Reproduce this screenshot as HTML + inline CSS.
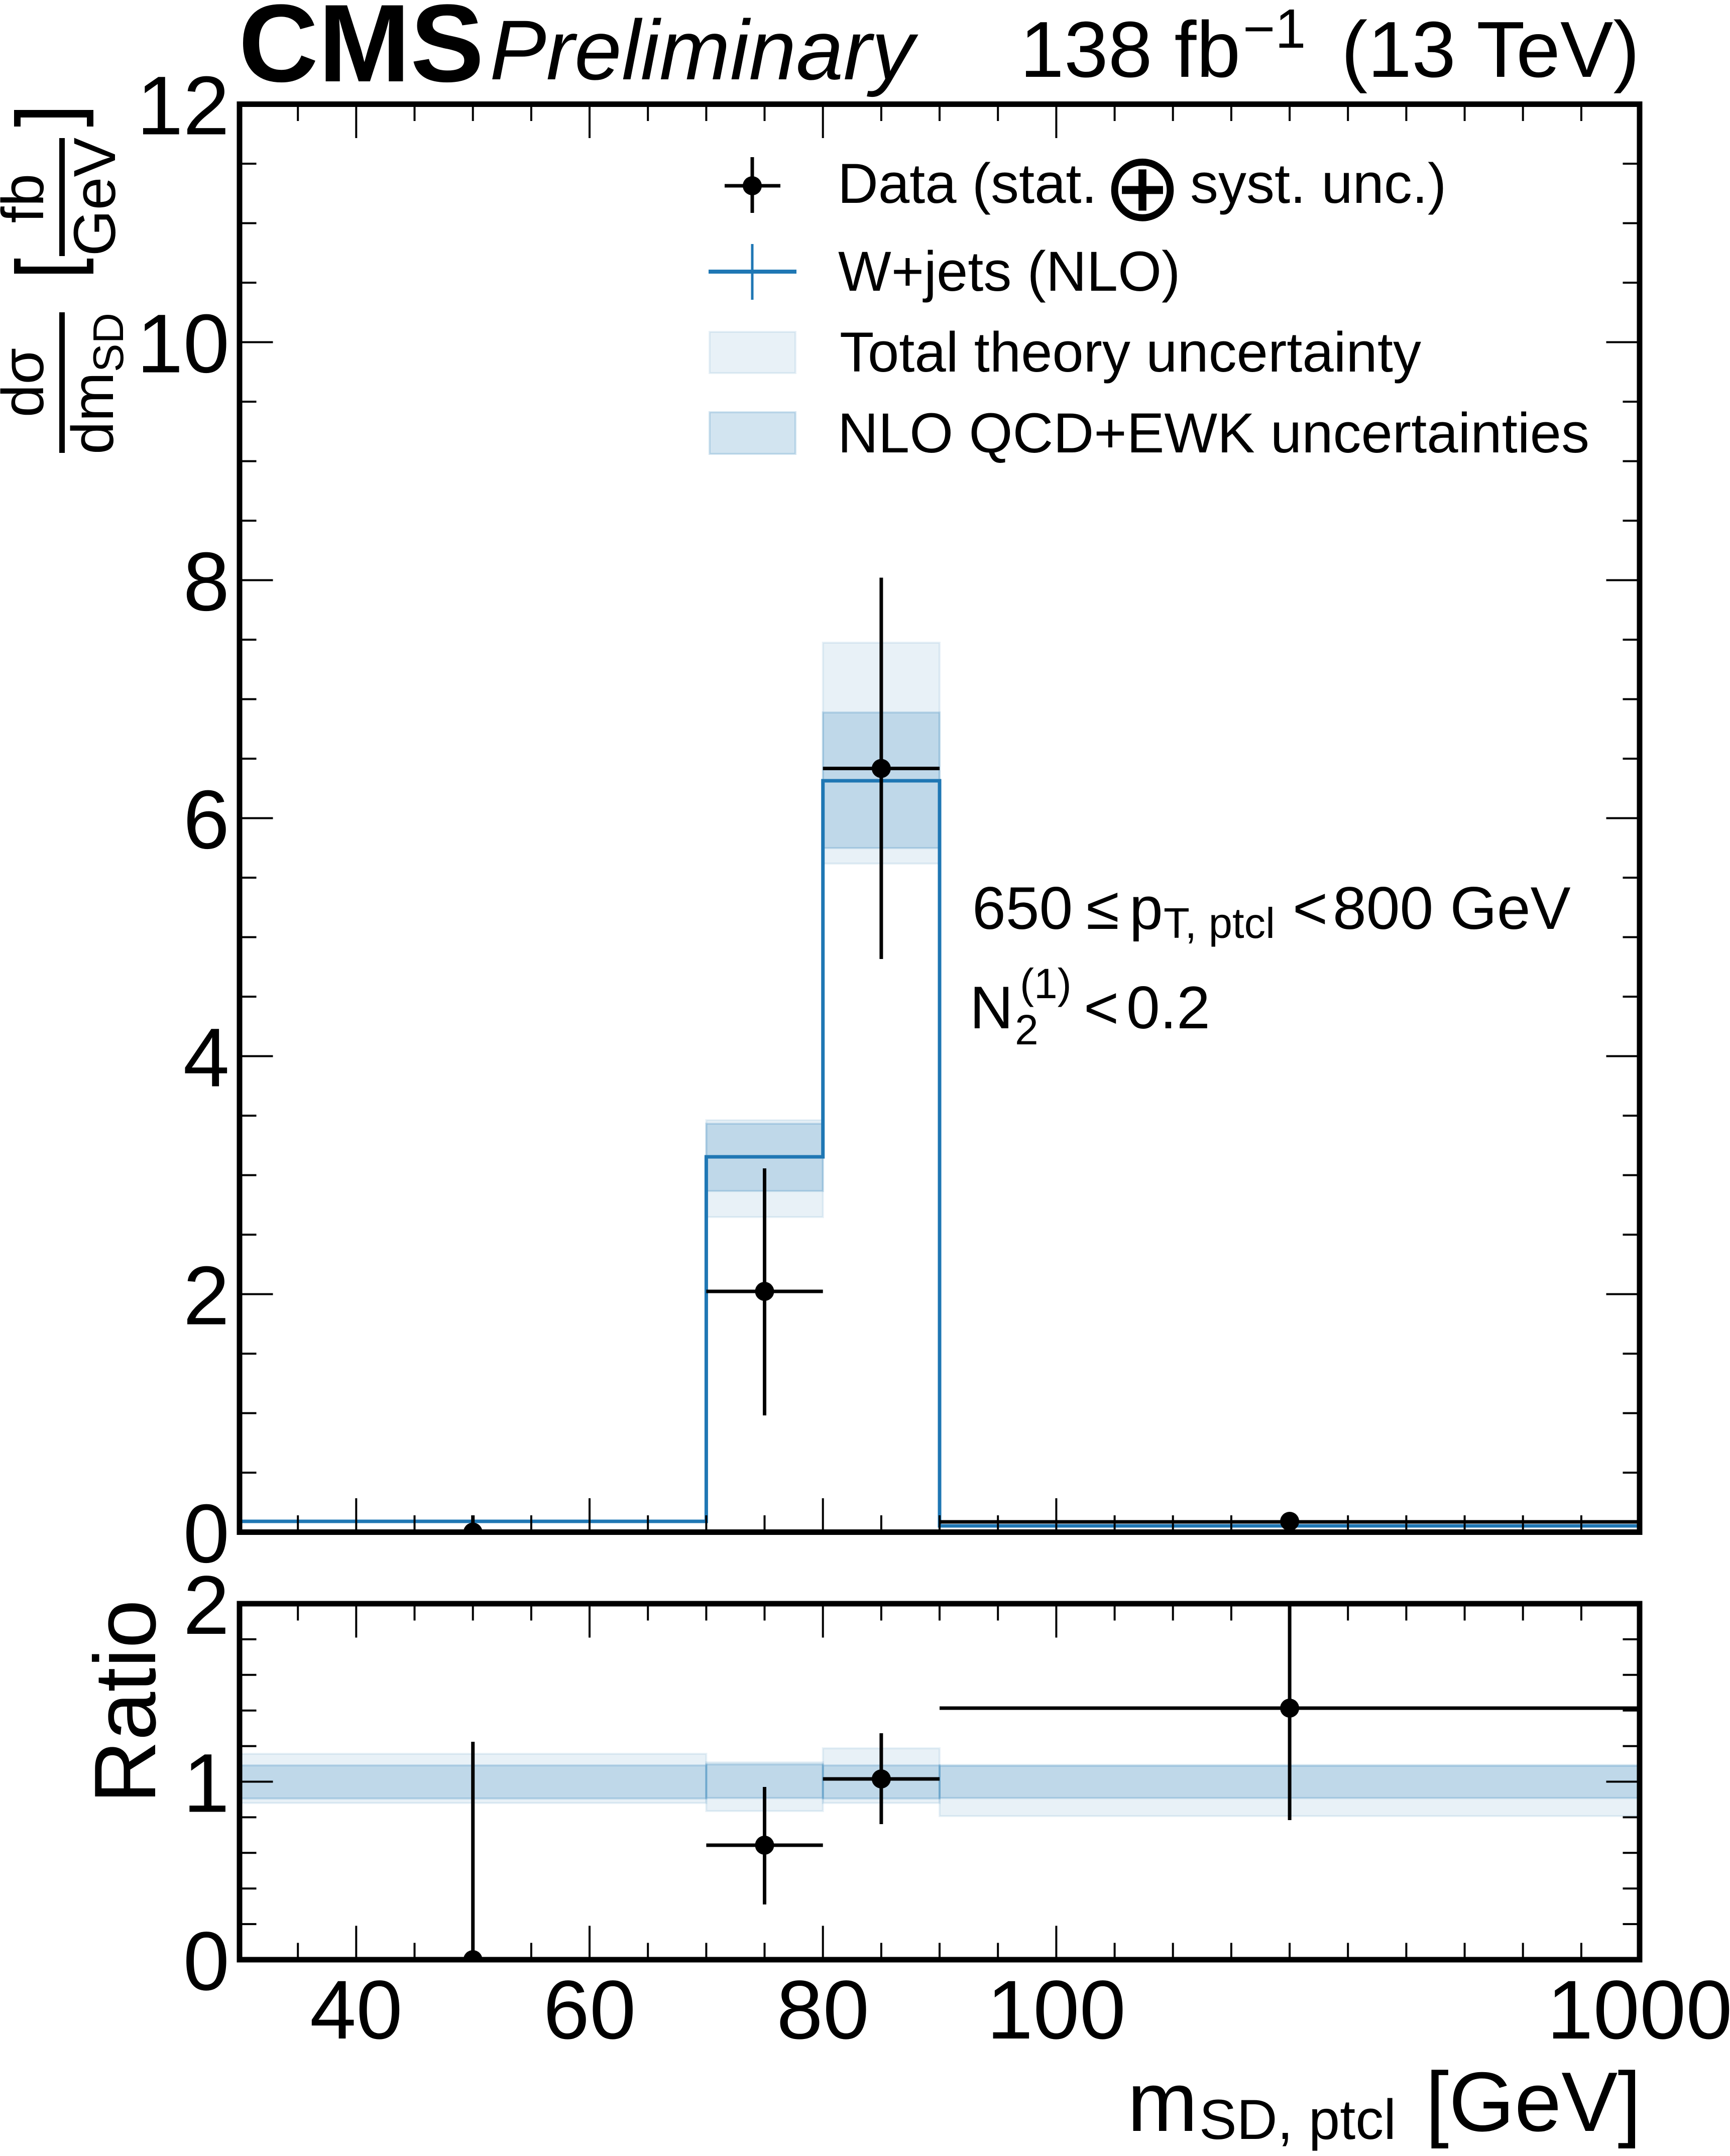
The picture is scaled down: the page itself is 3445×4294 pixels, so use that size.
<!DOCTYPE html>
<html>
<head>
<meta charset="utf-8">
<style>
html,body{margin:0;padding:0;background:#fff}
svg{display:block}
</style>
</head>
<body>
<svg width="3445" height="4294" viewBox="0 0 3445 4294" xmlns="http://www.w3.org/2000/svg" xmlns:xlink="http://www.w3.org/1999/xlink" font-family="'Liberation Sans','DejaVu Sans',sans-serif">
<defs>
<clipPath id="cm"><rect x="477" y="207.5" width="2788" height="2844"/></clipPath>
<clipPath id="cr"><rect x="477" y="3194" width="2788" height="709"/></clipPath>
<path id="xt" fill="none" stroke="#000" stroke-width="4" d="M593.2 0v-28M709.3 0v-62M825.5 0v-28M941.7 0v-28M1057.9 0v-28M1174 0v-62M1290.2 0v-28M1406.4 0v-28M1522.5 0v-28M1638.7 0v-62M1754.9 0v-28M1871 0v-28M1987.2 0v-28M2103.4 0v-62M2219.6 0v-28M2335.7 0v-28M2451.9 0v-28M2568.1 0v-28M2684.2 0v-28M2800.4 0v-28M2916.6 0v-28M3032.7 0v-28M3148.9 0v-28"/>
<path id="ym" fill="none" stroke="#000" stroke-width="4" d="M0 2933h28M0 2814.5h28M0 2696h28M0 2577.5h61M0 2459h28M0 2340.5h28M0 2222h28M0 2103.5h61M0 1985h28M0 1866.5h28M0 1748h28M0 1629.5h61M0 1511h28M0 1392.5h28M0 1274h28M0 1155.5h61M0 1037h28M0 918.5h28M0 800h28M0 681.5h61M0 563h28M0 444.5h28M0 326h28"/>
<path id="yr" fill="none" stroke="#000" stroke-width="4" d="M0 3832.1h28M0 3761.2h28M0 3690.3h28M0 3619.4h28M0 3548.5h61M0 3477.6h28M0 3406.7h28M0 3335.8h28M0 3264.9h28"/>
</defs>

<rect x="0" y="0" width="3445" height="4294" fill="#fff"/>

<!-- ============ MAIN PANEL ============ -->
<g clip-path="url(#cm)">
  <rect x="1406.4" y="2231" width="232.3" height="193" fill="rgba(31,119,180,0.1)" stroke="rgba(31,119,180,0.1)" stroke-width="4"/>
  <rect x="1406.4" y="2238" width="232.3" height="134" fill="rgba(31,119,180,0.2)" stroke="rgba(31,119,180,0.2)" stroke-width="4"/>
  <rect x="1638.7" y="1280" width="232.3" height="440" fill="rgba(31,119,180,0.1)" stroke="rgba(31,119,180,0.1)" stroke-width="4"/>
  <rect x="1638.7" y="1419" width="232.3" height="270" fill="rgba(31,119,180,0.2)" stroke="rgba(31,119,180,0.2)" stroke-width="4"/>
  <path d="M477 3030H1406.4V2304H1638.7V1555H1871V3039H3265" fill="none" stroke="#1f77b4" stroke-width="7"/>
  <g stroke="#000" stroke-width="7" fill="none">
    <path d="M941.7 3018V3052"/>
    <path d="M1406.4 2572H1638.7M1522.5 2327V2819"/>
    <path d="M1638.7 1530.5H1871M1754.9 1150.5V1910"/>
    <path d="M1871 3031H3265"/>
  </g>
  <g fill="#000">
    <circle cx="941.7" cy="3051.5" r="19"/>
    <circle cx="1522.5" cy="2572" r="19"/>
    <circle cx="1754.9" cy="1530.5" r="19"/>
    <circle cx="2568.1" cy="3030" r="19"/>
  </g>
</g>

<use xlink:href="#xt" href="#xt" transform="translate(0,3046)"/>
<use xlink:href="#xt" href="#xt" transform="translate(0,213) scale(1,-1)"/>
<use xlink:href="#ym" href="#ym" transform="translate(482.5,0)"/>
<use xlink:href="#ym" href="#ym" transform="translate(3259.5,0) scale(-1,1)"/>
<rect x="477" y="207.5" width="2788" height="2844" fill="none" stroke="#000" stroke-width="11"/>

<g font-size="166" text-anchor="end" fill="#000">
  <text x="457" y="3111.5">0</text>
  <text x="457" y="2637.5">2</text>
  <text x="457" y="2163.5">4</text>
  <text x="457" y="1689.5">6</text>
  <text x="457" y="1215.5">8</text>
  <text x="457" y="741.5">10</text>
  <text x="457" y="267.5">12</text>
</g>

<g fill="#000">
  <text transform="translate(86,762) rotate(-90)" font-size="118" text-anchor="middle">dσ</text>
  <rect x="118" y="622" width="11" height="280"/>
  <text transform="translate(225,905) rotate(-90)" font-size="118">dm<tspan font-size="85" dy="20">SD</tspan></text>
  <text transform="translate(86,395) rotate(-90)" font-size="118" text-anchor="middle">fb</text>
  <rect x="118" y="275" width="11" height="235"/>
  <text transform="translate(229,392) rotate(-90)" font-size="118" text-anchor="middle">GeV</text>
  <rect x="28" y="531" width="158" height="14"/>
  <rect x="28" y="515" width="13" height="30"/>
  <rect x="173" y="515" width="13" height="30"/>
  <rect x="28" y="219" width="158" height="15"/>
  <rect x="28" y="219" width="13" height="33"/>
  <rect x="173" y="219" width="13" height="33"/>
</g>

<text x="475" y="162" font-size="220" font-weight="bold" fill="#000">CMS</text>
<text x="975" y="158" font-size="169" font-style="italic" fill="#000">Preliminary</text>
<text x="2031" y="153" font-size="158" fill="#000">138 fb</text>
<text x="2475" y="95" font-size="110" fill="#000">−1</text>
<text x="3265" y="153" font-size="158" text-anchor="end" fill="#000">(13 TeV)</text>

<g stroke="#000" stroke-width="7">
  <path d="M1498 313V424M1443 370H1554"/>
</g>
<circle cx="1498" cy="370" r="19" fill="#000"/>
<path d="M1411 541H1586" stroke="#1f77b4" stroke-width="8"/>
<path d="M1498 486V597" stroke="#1f77b4" stroke-width="5"/>
<rect x="1413" y="661" width="171" height="82" fill="rgba(31,119,180,0.1)" stroke="rgba(31,119,180,0.1)" stroke-width="4"/>
<rect x="1413" y="821" width="171" height="83" fill="rgba(31,119,180,0.2)" stroke="rgba(31,119,180,0.2)" stroke-width="4"/>
<g font-size="112" fill="#000">
  <text x="1668" y="404">Data (stat.</text>
  <text x="2275" y="438" font-size="190" font-weight="200" text-anchor="middle" font-family="'DejaVu Sans','Liberation Sans',sans-serif">⊕</text>
  <text x="2370" y="404">syst. unc.)</text>
  <text x="1669" y="579">W+jets (NLO)</text>
  <text x="1672" y="740">Total theory uncertainty</text>
  <text x="1668" y="901">NLO QCD+EWK uncertainties</text>
</g>

<g fill="#000">
  <text x="1936" y="1850" font-size="120">650</text>
  <text x="2163" y="1850" font-size="120">≤</text>
  <text x="2249" y="1850" font-size="120">p</text>
  <text x="2317" y="1868" font-size="85">T, ptcl</text>
  <text x="2574" y="1850" font-size="120">&lt;</text>
  <text x="2654" y="1850" font-size="120">800 GeV</text>
  <text x="1931" y="2048" font-size="120">N</text>
  <text x="2021" y="2080" font-size="84">2</text>
  <text x="2031" y="1988" font-size="84">(1)</text>
  <text x="2158" y="2048" font-size="120">&lt;</text>
  <text x="2243" y="2048" font-size="120">0.2</text>
</g>

<!-- ============ RATIO PANEL ============ -->
<g clip-path="url(#cr)">
  <g fill="rgba(31,119,180,0.1)" stroke="rgba(31,119,180,0.1)" stroke-width="4">
    <rect x="477" y="3493" width="929.4" height="98"/>
    <rect x="1406.4" y="3510" width="232.3" height="97"/>
    <rect x="1638.7" y="3482" width="232.3" height="109"/>
    <rect x="1871" y="3515" width="1394" height="102"/>
  </g>
  <g fill="rgba(31,119,180,0.2)" stroke="rgba(31,119,180,0.2)" stroke-width="4">
    <rect x="477" y="3516" width="929.4" height="66"/>
    <rect x="1406.4" y="3514" width="232.3" height="67"/>
    <rect x="1638.7" y="3516" width="232.3" height="66"/>
    <rect x="1871" y="3517" width="1394" height="64"/>
  </g>
  <g stroke="#000" stroke-width="7" fill="none">
    <path d="M941.7 3469V3903"/>
    <path d="M1406.4 3675H1638.7M1522.5 3559V3793"/>
    <path d="M1638.7 3543H1871M1754.9 3452V3633"/>
    <path d="M1871 3402H3265M2568.1 3190V3625"/>
  </g>
  <g fill="#000">
    <circle cx="941.7" cy="3903" r="19"/>
    <circle cx="1522.5" cy="3675" r="19"/>
    <circle cx="1754.9" cy="3543" r="19"/>
    <circle cx="2568.1" cy="3402" r="19"/>
  </g>
</g>

<use xlink:href="#xt" href="#xt" transform="translate(0,3897.5)"/>
<use xlink:href="#xt" href="#xt" transform="translate(0,3199.5) scale(1,-1)"/>
<use xlink:href="#yr" href="#yr" transform="translate(482.5,0)"/>
<use xlink:href="#yr" href="#yr" transform="translate(3259.5,0) scale(-1,1)"/>
<rect x="477" y="3194" width="2788" height="709" fill="none" stroke="#000" stroke-width="11"/>

<g font-size="166" text-anchor="end" fill="#000">
  <text x="457" y="3963">0</text>
  <text x="457" y="3608.5">1</text>
  <text x="457" y="3254">2</text>
</g>

<text transform="translate(309,3186) rotate(-90)" font-size="174" text-anchor="end" fill="#000">Ratio</text>

<g font-size="166" text-anchor="middle" fill="#000">
  <text x="709.3" y="4060">40</text>
  <text x="1174" y="4060">60</text>
  <text x="1638.7" y="4060">80</text>
  <text x="2103.4" y="4060">100</text>
  <text x="3265" y="4060">1000</text>
</g>

<g fill="#000">
  <text x="2245" y="4244" font-size="168">m</text>
  <text x="2388" y="4260" font-size="112">SD, ptcl</text>
  <text x="3268" y="4244" font-size="168" text-anchor="end">[GeV]</text>
</g>
</svg>
</body>
</html>
